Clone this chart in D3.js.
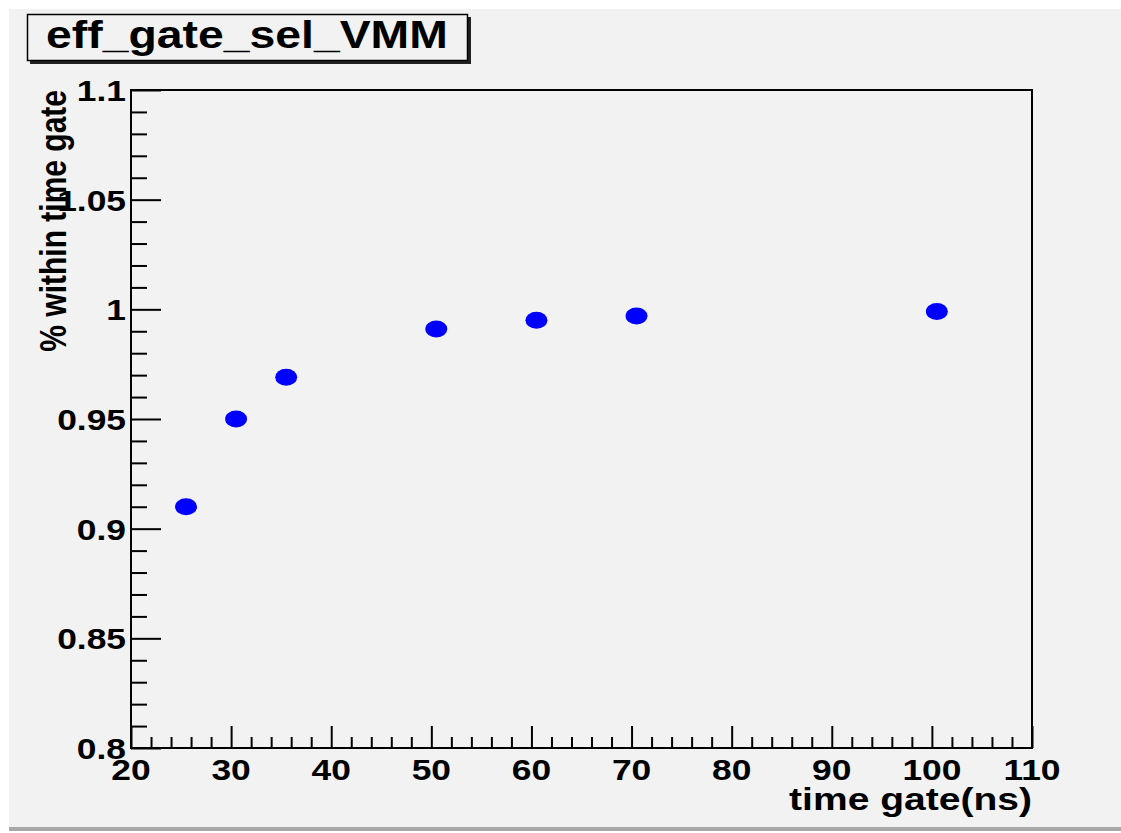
<!DOCTYPE html>
<html>
<head>
<meta charset="utf-8">
<script src="https://cdn.jsdelivr.net/npm/d3@7"></script>
<style>
    body { margin: 0; background: #ffffff; }
    svg { display: block; }
    text { font-family: "Liberation Sans", Arial, Helvetica, sans-serif; font-weight: bold; fill: #000; }
</style>
</head>
<body>
<svg id="chart" width="1121" height="833"></svg>
<script>
// measured values (time gate in ns, fraction within gate)
const gateNs = [25.5, 30.5, 35.5, 50.5, 60.5, 70.5, 100.5];
const fracInGate = [0.910, 0.950, 0.969, 0.991, 0.995, 0.997, 0.999];

const xMajorTicks = [20, 30, 40, 50, 60, 70, 80, 90, 100, 110];
const yMajorTicks = [0.8, 0.85, 0.9, 0.95, 1, 1.05, 1.1];
const yTickLabels = ["0.8", "0.85", "0.9", "0.95", "1", "1.05", "1.1"];

const chartTitle = "eff_gate_sel_VMM";
const xTitle = "time gate(ns)";
const yTitle = "% within time gate";

const W = 1121, H = 833;
const frame = { left: 131, right: 1032, top: 90, bottom: 748 };
const stretch = 1.22; // the picture is a bit wide, so glyphs are too

const svg = d3.select("#chart");

// canvas background
svg.append("rect")
    .attr("x", 9).attr("y", 9)
    .attr("width", W - 9).attr("height", 818)
    .attr("fill", "#f2f2f2");
svg.append("rect")
    .attr("x", 9).attr("y", 827)
    .attr("width", W - 9).attr("height", 4)
    .attr("fill", "#a8a8a8");

const x = d3.scaleLinear()
    .domain([20, 110])
    .range([frame.left, frame.right]);

const y = d3.scaleLinear()
    .domain([0.8, 1.1])
    .range([frame.bottom, frame.top]);

// minor ticks
const xMinor = d3.range(20, 110.001, 2).filter(v => v % 10 !== 0);
const yMinor = d3.range(0, 31).map(i => 0.8 + i * 0.01).filter(v => Math.abs(v * 20 - Math.round(v * 20)) > 1e-6);

function styleAxis(g) {
    g.select(".domain").remove();
    g.selectAll("line").attr("stroke", "#000").attr("stroke-width", 2);
}

svg.append("g")
    .attr("transform", `translate(0,${frame.bottom})`)
    .call(d3.axisBottom(x).tickValues(xMajorTicks).tickSize(-22).tickFormat(""))
    .call(styleAxis);
svg.append("g")
    .attr("transform", `translate(0,${frame.bottom})`)
    .call(d3.axisBottom(x).tickValues(xMinor).tickSize(-11).tickFormat(""))
    .call(styleAxis);

svg.append("g")
    .attr("transform", `translate(${frame.left},0)`)
    .call(d3.axisLeft(y).tickValues(yMajorTicks).tickSize(-30).tickFormat(""))
    .call(styleAxis);
svg.append("g")
    .attr("transform", `translate(${frame.left},0)`)
    .call(d3.axisLeft(y).tickValues(yMinor).tickSize(-16).tickFormat(""))
    .call(styleAxis);

// frame
svg.append("rect")
    .attr("x", frame.left).attr("y", frame.top)
    .attr("width", frame.right - frame.left)
    .attr("height", frame.bottom - frame.top)
    .attr("fill", "none")
    .attr("stroke", "#000")
    .attr("stroke-width", 2);

// tick labels
svg.append("g").selectAll("text")
    .data(xMajorTicks)
    .join("text")
    .attr("transform", d => `translate(${x(d)},780) scale(${stretch},1)`)
    .attr("text-anchor", "middle")
    .attr("font-size", 29)
    .text(d => d);

svg.append("g").selectAll("text")
    .data(yMajorTicks)
    .join("text")
    .attr("transform", d => `translate(126,${y(d) + 11}) scale(${stretch},1)`)
    .attr("text-anchor", "end")
    .attr("font-size", 29)
    .text((d, i) => yTickLabels[i]);

// axis titles
svg.append("text")
    .attr("transform", `translate(${frame.right},810) scale(${stretch},1)`)
    .attr("text-anchor", "end")
    .attr("font-size", 32)
    .text(xTitle);

svg.append("text")
    .attr("transform", `translate(66,${frame.top}) scale(${stretch},1) rotate(-90)`)
    .attr("text-anchor", "end")
    .attr("font-size", 30)
    .text(yTitle);

// points
svg.append("g").selectAll("ellipse")
    .data(gateNs)
    .join("ellipse")
    .attr("cx", d => x(d))
    .attr("cy", (d, i) => y(fracInGate[i]))
    .attr("rx", 11)
    .attr("ry", 8.5)
    .attr("fill", "#0000ff");

// title box with shadow
svg.append("rect")
    .attr("x", 30).attr("y", 17)
    .attr("width", 441).attr("height", 47)
    .attr("fill", "#222");
svg.append("rect")
    .attr("x", 27.5).attr("y", 14.5)
    .attr("width", 440).attr("height", 46)
    .attr("fill", "#f2f2f2")
    .attr("stroke", "#000")
    .attr("stroke-width", 1.5);
svg.append("text")
    .attr("transform", `translate(46,48) scale(${stretch},1)`)
    .attr("font-size", 38)
    .text(chartTitle);
</script>
</body>
</html>
